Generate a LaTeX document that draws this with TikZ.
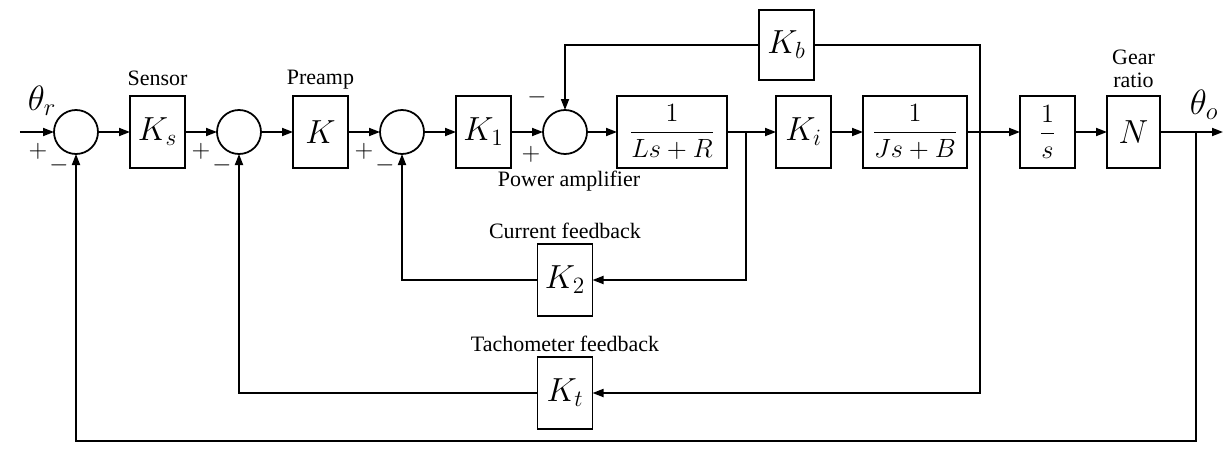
\documentclass[tikz,border=0pt]{standalone}
\usepackage{amsmath}
\usepackage{fix-cm}
\usepackage{fontspec}
\setmainfont{Liberation Serif}
\usepackage{tikz}
\usetikzlibrary{arrows.meta,positioning,calc}

\begin{document}
\begin{tikzpicture}[
  x=0.2mm,y=-0.2mm,
  node distance=6.4mm,
  blk/.style={draw,line width=1pt,minimum width=11mm,minimum height=14.4mm,inner sep=0pt,outer sep=0pt,font=\fontsize{19}{21}\selectfont},
  frac/.style={font=\fontsize{15}{17}\selectfont},
  sum/.style={draw,circle,line width=1pt,minimum size=8.8mm,inner sep=0pt,outer sep=0pt},
  lbl/.style={font=\fontsize{12.5}{13.5}\selectfont,inner sep=1pt,align=center},
  sgn/.style={font=\fontsize{14}{14}\selectfont,inner sep=0pt},
  arr/.style={-{Triangle[length=2.2mm,width=1.6mm]},line width=1pt},
  wire/.style={line width=1pt}
]
\useasboundingbox (0,0) rectangle (1227,448);
% forward path
\node[sum] (s1) at (76,132) {};
\node[blk,right=of s1] (ks) {$K_s$};
\node[sum,right=of ks] (s2) {};
\node[blk,right=of s2] (kp) {$K$};
\node[sum,right=of kp] (s3) {};
\node[blk,right=of s3] (k1) {$K_1$};
\node[sum,right=of k1] (s4) {};
\node[blk,frac,minimum width=22mm,right=6mm of s4] (lsr) {$\dfrac{1}{Ls+R}$};
\node[blk,right=9.8mm of lsr] (ki) {$K_i$};
\node[blk,frac,minimum width=20.8mm,right=of ki] (jsb) {$\dfrac{1}{Js+B}$};
\node[blk,frac,right=10.6mm of jsb] (integ) {$\dfrac{1}{s}$};
\node[blk,minimum width=10.6mm,right=of integ] (gear) {$N$};
% feedback blocks
\node[blk,minimum height=14mm,above=3.2mm of ki,xshift=-3.4mm] (kb) {$K_b$};
\node[blk,below=18mm of s4] (k2) {$K_2$};
\node[blk,below=8.2mm of k2] (kt) {$K_t$};
% branch points
\coordinate[left=6.8mm of s1] (in);
\coordinate[right=3.8mm of lsr] (b1);
\coordinate[right=2.6mm of jsb] (b2);
\coordinate[right=7.2mm of gear] (b3);
\coordinate[right=12.6mm of gear] (out);
\coordinate[below=2.4mm of kt] (low);
% labels
\node[lbl,above=1.6mm of ks] (lsens) {Sensor};
\node[lbl,above=1mm of kp] (lpre) {Preamp};
\node[lbl,below=3mm of s4,xshift=0.8mm] (lpow) {Power amplifier};
\node[lbl,font=\fontsize{12.5}{13}\selectfont,above=1.2mm of gear] (lgear) {Gear\\ratio};
\node[lbl,above=0.6mm of k2] (lcur) {Current feedback};
\node[lbl,above=0.6mm of kt] (ltach) {Tachometer feedback};
\node[font=\fontsize{20}{20}\selectfont,inner sep=0pt] (thr) at ([shift={(4.4mm,6.2mm)}]in) {$\theta_r$};
\node[font=\fontsize{20}{20}\selectfont,inner sep=0pt] (tho) at ([shift={(1.6mm,5.4mm)}]b3) {$\theta_o$};
% signs
\node[sgn] at ([shift={(-7.6mm,-3.8mm)}]s1) {$+$};
\node[sgn] at ([shift={(-3.4mm,-6.6mm)}]s1) {$-$};
\node[sgn] at ([shift={(-7.6mm,-3.8mm)}]s2) {$+$};
\node[sgn] at ([shift={(-3.4mm,-6.6mm)}]s2) {$-$};
\node[sgn] at ([shift={(-7.6mm,-3.8mm)}]s3) {$+$};
\node[sgn] at ([shift={(-3.4mm,-6.6mm)}]s3) {$-$};
\node[sgn] at ([shift={(-6.8mm,-4.4mm)}]s4) {$+$};
\node[sgn] at ([shift={(-5.6mm,7mm)}]s4) {$-$};
% forward connectors
\draw[arr] (in) -- (s1);
\draw[arr] (s1) -- (ks);
\draw[arr] (ks) -- (s2);
\draw[arr] (s2) -- (kp);
\draw[arr] (kp) -- (s3);
\draw[arr] (s3) -- (k1);
\draw[arr] (k1) -- (s4);
\draw[arr] (s4) -- (lsr);
\draw[arr] (lsr) -- (ki);
\draw[arr] (ki) -- (jsb);
\draw[arr] (jsb) -- (integ);
\draw[arr] (integ) -- (gear);
\draw[arr] (gear) -- (out);
% feedback connectors
\draw[arr] (b1) |- (k2);
\draw[arr] (k2) -| (s3);
\draw[wire] (b2) |- (kb);
\draw[arr] (kb) -| (s4);
\draw[arr] (b2) |- (kt);
\draw[arr] (kt) -| (s2);
\draw[arr] (b3) |- (low) -| (s1);
\end{tikzpicture}
\end{document}
